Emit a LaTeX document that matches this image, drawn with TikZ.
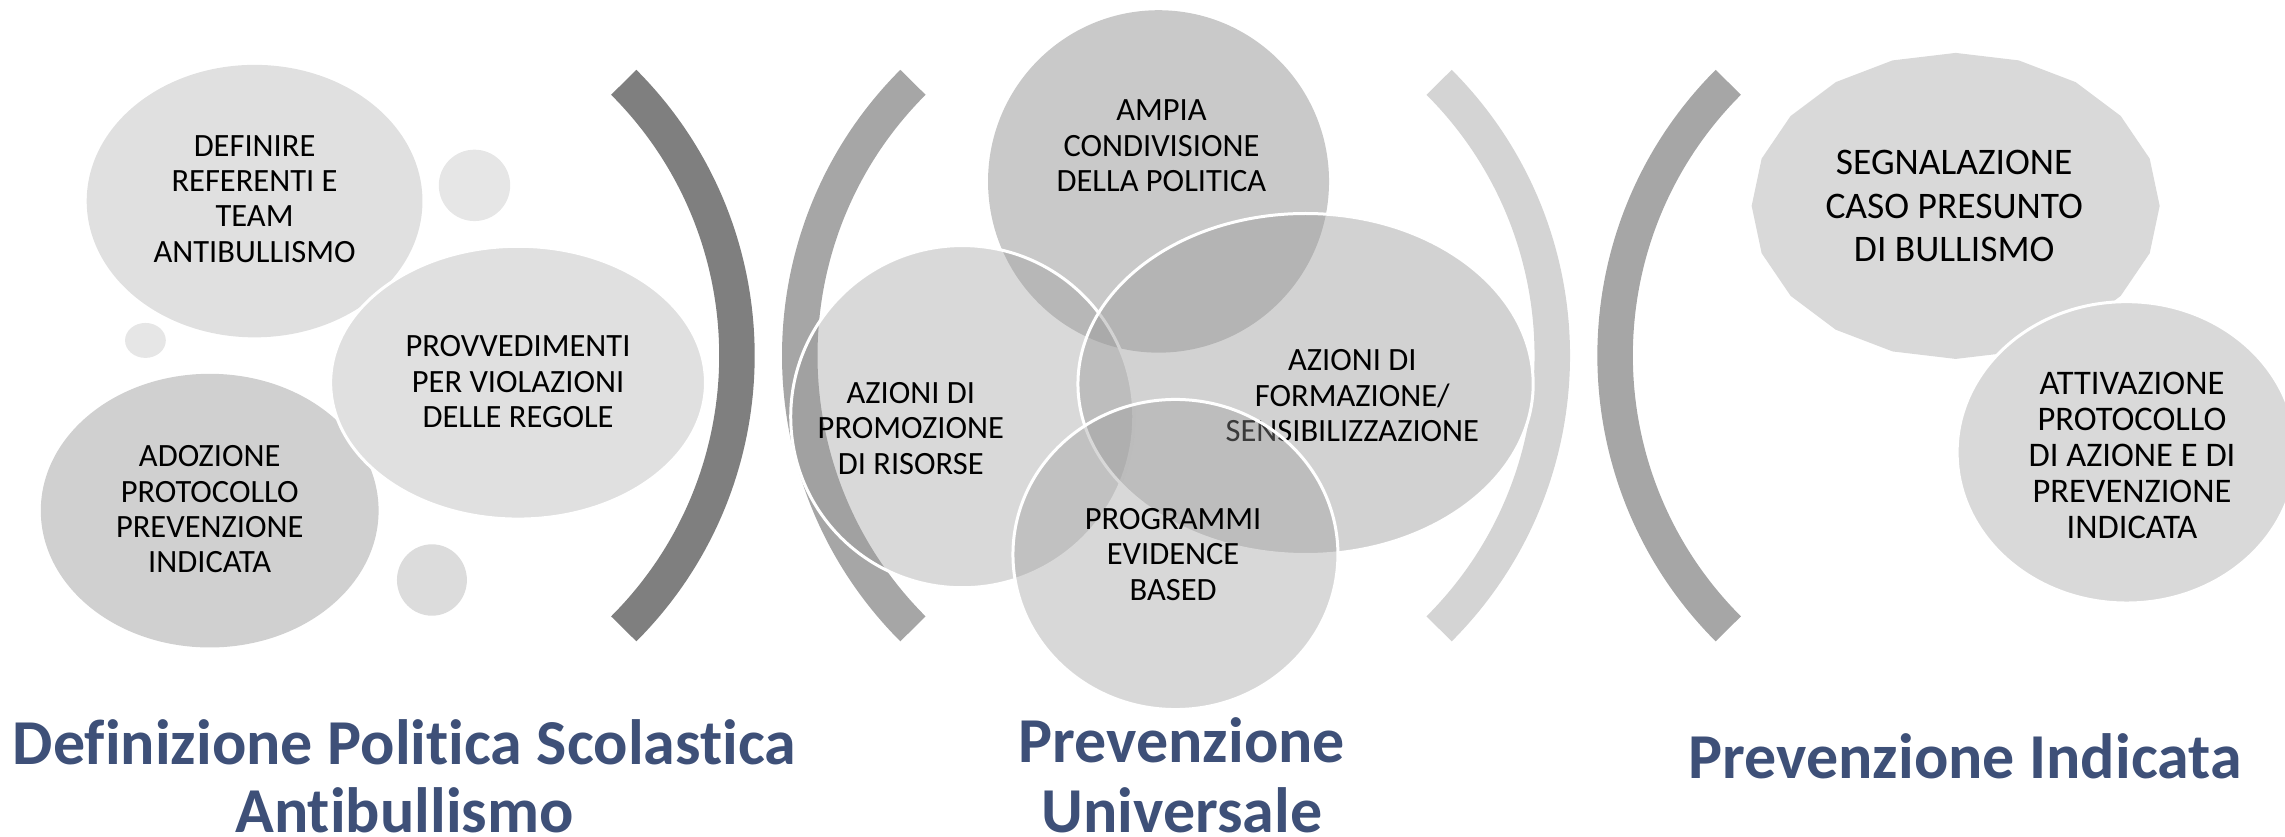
\documentclass[tikz,border=0pt]{standalone}
\usepackage{fontspec}
\setmainfont{Carlito}[Ligatures=NoCommon]
\definecolor{titleblue}{RGB}{62,80,120}
\definecolor{arcdark}{RGB}{127,127,127}
\definecolor{arcgray}{RGB}{166,166,166}
\definecolor{arclight}{RGB}{212,212,212}
\definecolor{bubblelight}{RGB}{224,224,224}
\definecolor{bubblemid}{RGB}{208,208,208}
\definecolor{dotlight}{RGB}{230,230,230}
\definecolor{dotmid}{RGB}{220,220,220}
\definecolor{midbase}{RGB}{153,153,153}
\definecolor{rightfill}{RGB}{217,217,217}
\newcommand\bubblefont{\fontsize{32.5}{35.4}\selectfont}
\newcommand\bigbubblefont{\fontsize{37.5}{43.4}\selectfont}
\newcommand\midbubblefont{\fontsize{34.5}{36}\selectfont}
\newcommand\mytitlefont{\fontsize{64}{69}\selectfont\bfseries}
\tikzset{
  bubbletext/.style={align=center, font=\bubblefont, text=black, inner sep=0pt},
  titletext/.style={font=\mytitlefont, text=titleblue, anchor=base, inner sep=0pt},
  arcstroke/.style={line width=35.5pt},
  whiteedge/.style={draw=white, line width=3pt},
}
\begin{document}
\begin{tikzpicture}[x=1.4573pt,y=-1.4573pt]
\useasboundingbox (0,0) rectangle (1568,574);
\clip (0,0) rectangle (1568,574);

% ---------- left group ----------
\fill[bubblelight] (174.7,138) ellipse [x radius=115.2, y radius=93.5];
\node[bubbletext] (definire) at (174.7,136.5) {DEFINIRE\\REFERENTI E\\TEAM\\ANTIBULLISMO};
\fill[dotlight] (325.6,127.2) ellipse [x radius=24.5, y radius=24.5];
\fill[dotlight] (99.8,233.6) ellipse [x radius=14, y radius=12];
\fill[dotmid] (296.4,398) ellipse [x radius=24, y radius=24.5];
\fill[bubblemid] (143.9,350.4) ellipse [x radius=115.9, y radius=93.9];
\node[bubbletext] (adozione) at (143.9,349.5) {ADOZIONE\\PROTOCOLLO\\PREVENZIONE\\INDICATA};
\filldraw[fill=bubblelight, whiteedge] (355.5,262.6) ellipse [x radius=128.6, y radius=93.6];
\node[bubbletext] (provvedimenti) at (355.5,262) {PROVVEDIMENTI\\PER VIOLAZIONI\\DELLE REGOLE};

% ---------- arcs ----------
\draw[arcstroke, arcdark] ([shift={(240.5,244)}]-45:265.2) arc[start angle=-45, end angle=45, radius=265.2];
\draw[arcstroke, arcgray] ([shift={(814,244)}]135:265.2) arc[start angle=135, end angle=225, radius=265.2];
\draw[arcstroke, arclight] ([shift={(800,244)}]-45:265.2) arc[start angle=-45, end angle=45, radius=265.2];
\draw[arcstroke, arcgray] ([shift={(1373.5,244)}]135:265.2) arc[start angle=135, end angle=225, radius=265.2];

% ---------- middle cluster ----------
\fill[midbase, fill opacity=0.53] (795,124.5) ellipse [x radius=117, y radius=117.5];
\node[bubbletext] (ampia) at (797,100) {AMPIA\\CONDIVISIONE\\DELLA POLITICA};
\filldraw[fill=midbase, fill opacity=0.37, whiteedge] (660.3,285.9) ellipse [x radius=117.7, y radius=117.4];
\node[bubbletext] (promozione) at (625,294) {AZIONI DI\\PROMOZIONE\\DI RISORSE};
\filldraw[fill=midbase, fill opacity=0.44, whiteedge] (895.9,263.5) ellipse [x radius=156.2, y radius=117];
\node[bubbletext] (formazione) at (928,271.5) {AZIONI DI\\FORMAZIONE/\\SENSIBILIZZAZIONE};
\filldraw[fill=midbase, fill opacity=0.38, whiteedge] (806.6,380.5) ellipse [x radius=111.5, y radius=106.4];
\node[bubbletext] (programmi) at (805,380.5) {PROGRAMMI\\EVIDENCE\\BASED};

% ---------- right group ----------
\fill[rightfill] plot[samples at={0,18,...,342}] ({1342+140*cos(\x)},{141.3+105*sin(\x)}) -- cycle;
\node[bubbletext, font=\bigbubblefont] (segnalazione) at (1341,141.5) {SEGNALAZIONE\\CASO PRESUNTO\\DI BULLISMO};
\filldraw[fill=rightfill, whiteedge] (1459.3,310.4) ellipse [x radius=116.3, y radius=103.4];
\node[bubbletext, font=\midbubblefont] (attivazione) at (1463,312.5) {ATTIVAZIONE\\PROTOCOLLO\\DI AZIONE E DI\\PREVENZIONE\\INDICATA};

% ---------- titles ----------
\node[titletext] (t1a) at (277.5,524.6) {Definizione Politica Scolastica};
\node[titletext] (t1b) at (277.5,571.5) {Antibullismo};
\node[titletext] (t2a) at (811,523.4) {Prevenzione};
\node[titletext] (t2b) at (811,571) {Universale};
\node[titletext] (t3) at (1348.5,534) {Prevenzione Indicata};
\end{tikzpicture}
\end{document}
